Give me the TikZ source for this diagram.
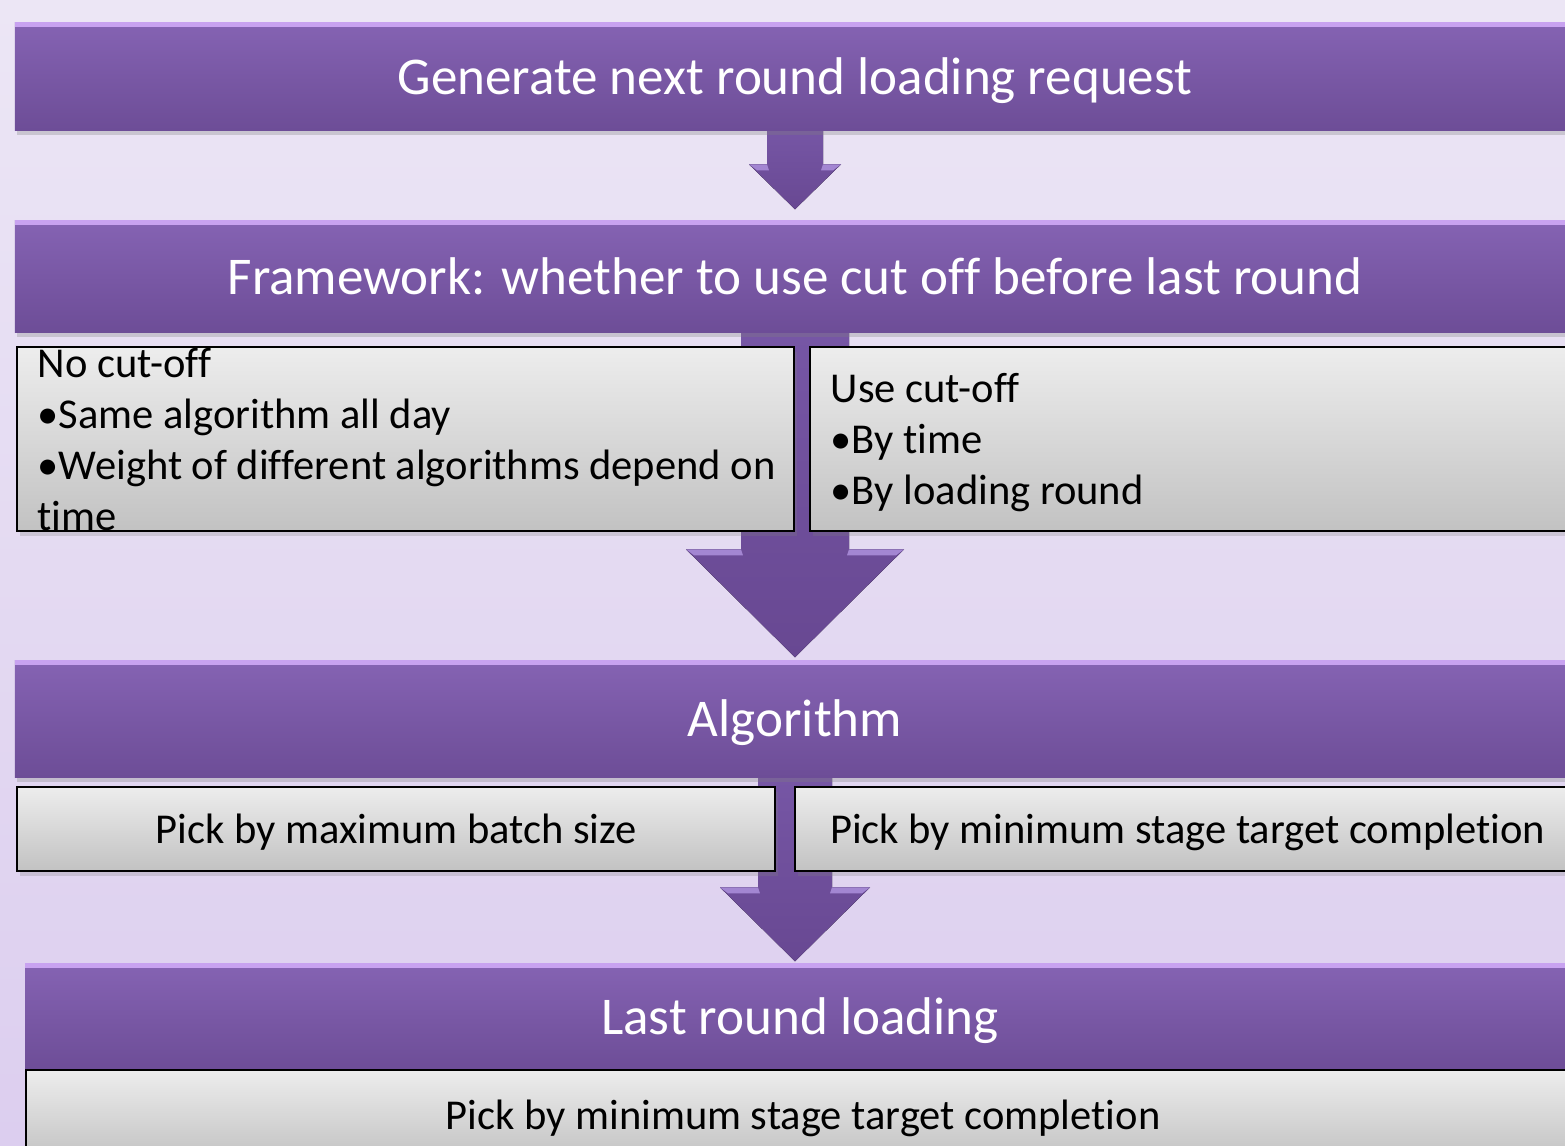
\documentclass[tikz,border=0pt]{standalone}
\usepackage{fontspec}
\setmainfont{Carlito}[Ligatures=NoCommon]
\usetikzlibrary{calc,shadows}

\definecolor{bgtop}{HTML}{ECE6F5}
\definecolor{bgbot}{HTML}{DCCEEF}
\definecolor{bartop}{HTML}{8563B3}
\definecolor{barbot}{HTML}{6D4D97}
\definecolor{barlight}{HTML}{C8A2F0}
\definecolor{boxtop}{HTML}{EDEDED}
\definecolor{boxbot}{HTML}{C2C2C2}
\definecolor{arrowtop}{HTML}{7656A5}
\definecolor{arrowbot}{HTML}{684892}
\definecolor{arrowlight}{HTML}{A386D2}

\pgfdeclarelayer{bg}
\pgfdeclarelayer{arrows}
\pgfsetlayers{bg,arrows,main}

\tikzset{
	stagebar/.style={rectangle, inner sep=0pt, top color=bartop, bottom color=barbot,
		text=white, font=\fontsize{15.1}{17}\selectfont,
		text height=1.24em, text depth=0.2em,
		drop shadow={opacity=0.3, shadow xshift=0.02cm, shadow yshift=-0.05cm},
		path picture={\fill[barlight] (path picture bounding box.north west) rectangle
			([yshift=-0.05cm]path picture bounding box.north east);}},
	optbox/.style={rectangle, inner sep=0pt, draw=black, line width=0.6pt,
		top color=boxtop, bottom color=boxbot, font=\fontsize{12.1}{14.5}\selectfont,
		text height=1.02em, text depth=0.2em,
		drop shadow={opacity=0.25, shadow xshift=0.03cm, shadow yshift=-0.05cm}},
	opttext/.style={align=left, inner sep=0pt, anchor=north west,
		font=\fontsize{12.1}{14.5}\selectfont},
	blockarrow/.style={top color=arrowtop, bottom color=arrowbot},
	arrowshine/.style={fill=arrowlight}
}

% Pfeil von #1 nach #2: Schaft, Spitze, Spitzenlaenge, Abstand
\newcommand{\flowarrow}[6]{%
	\begin{pgfonlayer}{arrows}
	\fill[blockarrow] let \p1=(#1.south), \p2=(#2.north) in
		({\x1-#3},\y1) -- ({\x1+#3},\y1) -- ({\x1+#3},{\y2+#6+#5})
		-- ({\x1+#4},{\y2+#6+#5}) -- (\x1,{\y2+#6})
		-- ({\x1-#4},{\y2+#6+#5}) -- ({\x1-#3},{\y2+#6+#5}) -- cycle;
	% Glanzkanten an der Spitze
	\fill[arrowshine] let \p1=(#1.south), \p2=(#2.north) in
		({\x1+#3},{\y2+#6+#5}) -- ({\x1+#4},{\y2+#6+#5})
		-- ({\x1+#4-0.08cm},{\y2+#6+#5-0.06cm}) -- ({\x1+#3-0.02cm},{\y2+#6+#5-0.06cm}) -- cycle;
	\fill[arrowshine] let \p1=(#1.south), \p2=(#2.north) in
		({\x1-#3},{\y2+#6+#5}) -- ({\x1-#4},{\y2+#6+#5})
		-- ({\x1-#4+0.08cm},{\y2+#6+#5-0.06cm}) -- ({\x1-#3+0.02cm},{\y2+#6+#5-0.06cm}) -- cycle;
	\end{pgfonlayer}}

\begin{document}
\begin{tikzpicture}
	\useasboundingbox (0,0) rectangle (15.65,-11.45);
	% Hintergrund
	\begin{pgfonlayer}{bg}
		\fill[top color=bgtop, bottom color=bgbot] (0,0) rectangle (15.65,-11.45);
	\end{pgfonlayer}

	% Stufen
	\node[stagebar, minimum width=15.6cm, minimum height=1.08cm] (gen) at (7.95,-0.76)
		{Generate next round loading request};
	\node[stagebar, minimum width=15.6cm, minimum height=1.12cm] (frame) at (7.95,-2.76)
		{Framework: whether to use cut off before last round};

	% Varianten Cut-off
	\node[optbox, minimum width=7.77cm, minimum height=1.84cm] (nocut) at (4.055,-4.39) {};
	\node[optbox, minimum width=7.7cm, minimum height=1.84cm] (usecut) at (11.95,-4.39) {};
	\node[opttext] (nocuttext) at (0.37,-3.48)
		{No cut-off\\ •Same algorithm all day\\ •Weight of different algorithms depend on\\ time};
	\node[opttext] (usecuttext) at (8.30,-3.73)
		{Use cut-off\\ •By time\\ •By loading round};

	\node[stagebar, minimum width=15.6cm, minimum height=1.17cm] (algo) at (7.95,-7.185)
		{Algorithm};

	% Varianten Algorithmus
	\node[optbox, minimum width=7.58cm, minimum height=0.84cm] (maxbatch) at (3.96,-8.29)
		{Pick by maximum batch size};
	\node[optbox, minimum width=7.85cm, minimum height=0.84cm] (minstage) at (11.875,-8.29)
		{Pick by minimum stage target completion};

	\node[stagebar, minimum width=15.5cm, minimum height=1.07cm] (last) at (8.0,-10.165)
		{Last round loading};
	\node[optbox, minimum width=15.54cm, minimum height=0.9cm] (lastpick) at (8.03,-11.15)
		{Pick by minimum stage target completion};

	% Pfeile
	\flowarrow{gen}{frame}{0.28cm}{0.46cm}{0.45cm}{0.1cm}
	\flowarrow{frame}{algo}{0.54cm}{1.09cm}{1.08cm}{0.02cm}
	\flowarrow{algo}{last}{0.37cm}{0.75cm}{0.74cm}{0.01cm}
\end{tikzpicture}
\end{document}
